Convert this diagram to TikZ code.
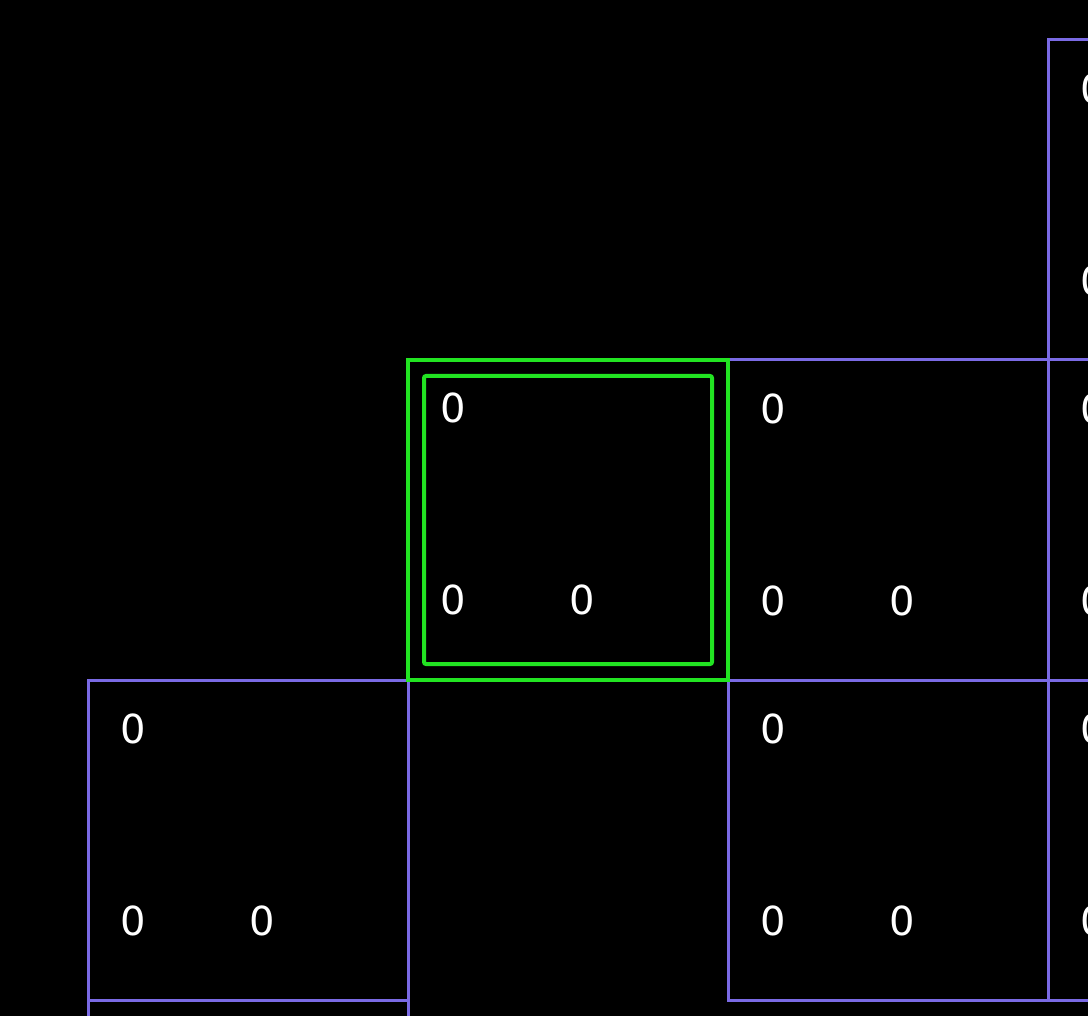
\documentclass[tikz,border=0pt]{standalone}
\usepackage{fontspec}
\setmainfont{DejaVu Sans}
\usepackage{tikz}
\usetikzlibrary{positioning, calc}

\definecolor{cellpurple}{RGB}{122,106,228}
\definecolor{selgreen}{RGB}{34,228,34}

\begin{document}
\begin{tikzpicture}[
    x=1pt, y=-1pt,
    % --- STYLES ---
    cell/.style={
        rectangle, draw=cellpurple, line width=3pt,
        minimum size=320pt, inner sep=0pt
    },
    selcell/.style={
        rectangle, draw=selgreen, line width=3.5pt,
        minimum size=320pt, inner sep=0pt
    },
    selinner/.style={
        rectangle, draw=selgreen, line width=4pt, rounded corners=2pt,
        minimum size=288pt, inner sep=0pt
    },
    digit/.style={
        text=white, inner sep=0pt,
        font=\fontsize{40}{40}\selectfont
    }
]

% ===== 1. FRAME =====
\path[use as bounding box, fill=black] (0,0) rectangle (1088,1016);
\clip (0,0) rectangle (1088,1016);

% ===== 2. PURPLE CELLS =====
\foreach \cx/\cy/\nm in {1208/200/ra, 888/520/rb, 1208/520/rc,
                         248/840/rd, 888/840/re, 1208/840/rf, 248/1160/rg}{
    \node[cell] (\nm) at (\cx,\cy) {};
    \node[digit] (\nm-tl) at ($(\nm.north west)+(47,50)$) {0};
    \node[digit] (\nm-bl) at ($(\nm.north west)+(47,242)$) {0};
    \node[digit] (\nm-bm) at ($(\nm.north west)+(176,242)$) {0};
}

% ===== 3. SELECTED CELL =====
\node[selcell] (sel) at (568,520) {};
\node[selinner] (selbox) at (sel.center) {};
\node[digit] (sel-tl) at ($(sel.north west)+(47,50)$) {0};
\node[digit] (sel-bl) at ($(sel.north west)+(47,242)$) {0};
\node[digit] (sel-bm) at ($(sel.north west)+(176,242)$) {0};

\end{tikzpicture}
\end{document}
